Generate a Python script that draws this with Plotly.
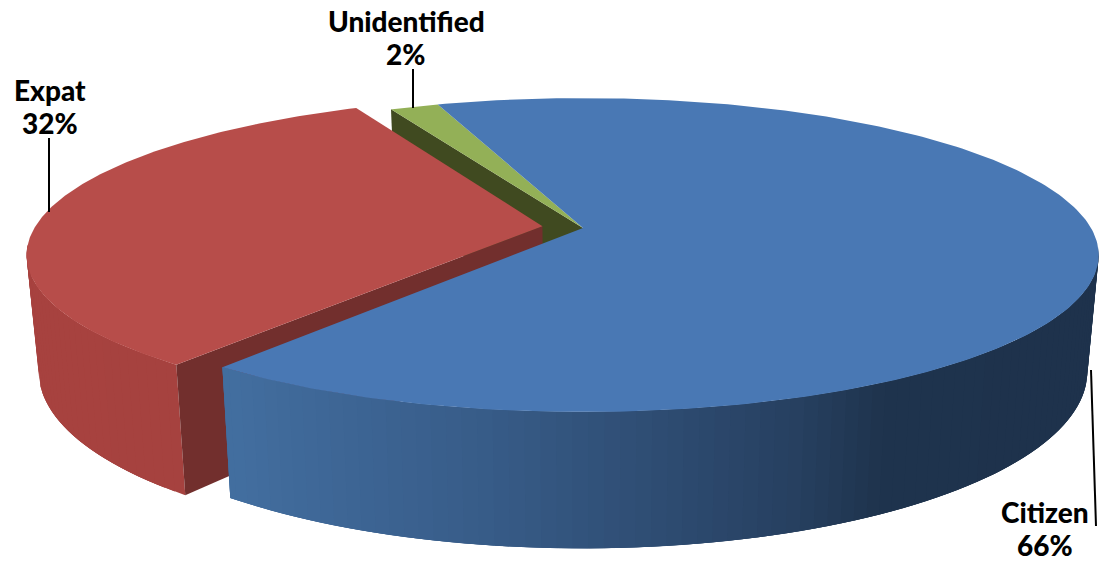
import numpy as np
import plotly.graph_objects as go

categories = ["Citizen", "Expat", "Unidentified"]
values = [65.9, 32.3, 1.8]
label_names = ["Citizen", "Expat", "Unidentified"]
label_pcts = ["66%", "32%", "2%"]

# picture geometry (styles, not data)
W, H = 1099, 562
X0, Y0 = 583, 228
A, B, K = 508, 152.3, 0.172
DEPTH, SHRINK = 113, 0.978
START = -19.4
# explosion of each slice, in the plane of the pie
OFFSETS = {"Citizen": (0, 0), "Expat": (-0.08, -0.012), "Unidentified": (0, 0)}
TOP = {"Citizen": "#4978b4", "Expat": "#b74d4a", "Unidentified": "#93b057"}
WALL = {"Expat": "#722f2d", "Unidentified": "#404a20"}
RIM_STOPS = {
    "Citizen": ([225, 500, 800, 880, 1099],
                [(0x43, 0x6f, 0xa0), (0x37, 0x5b, 0x87), (0x27, 0x40, 0x60), (0x1f, 0x34, 0x4e), (0x1e, 0x32, 0x4c)]),
    "Expat": ([25, 180], [(0xa8, 0x42, 0x3f), (0xa6, 0x43, 0x40)]),
}


def project(u, v, off, bottom=False):
    u, v = u + off[0], v + off[1]
    w = 1 - K * v
    if bottom:
        return X0 + SHRINK * A * u / w, Y0 + B * v / w + DEPTH / w
    return X0 + A * u / w, Y0 + B * v / w


def top_pt(a, off):
    r = np.radians(a)
    return project(np.sin(r), -np.cos(r), off)


def bot_pt(a, off):
    r = np.radians(a)
    return project(np.sin(r), -np.cos(r), off, bottom=True)


def poly(xs, ys, color):
    return go.Scatter(x=list(xs) + [xs[0]], y=list(ys) + [ys[0]], mode="lines", fill="toself",
                      fillcolor=color, line=dict(color=color, width=0),
                      hoverinfo="skip", showlegend=False)


def rim_color(name, x):
    xp, cols = RIM_STOPS[name]
    c = [np.interp(x, xp, [col[i] for col in cols]) for i in range(3)]
    return "rgb(%d,%d,%d)" % tuple(c)


# slice spans, clockwise from the start angle
spans = {}
cur = START
for name, val in zip(categories, values):
    spans[name] = (cur, cur + val / sum(values) * 360)
    cur = spans[name][1]

traces = []


def radial_wall(name, angle):
    off = OFFSETS[name]
    p, q = top_pt(angle, off), bot_pt(angle, off)
    a0, a1 = project(0, 0, off), project(0, 0, off, bottom=True)
    return poly([a0[0], p[0], q[0], a1[0]], [a0[1], p[1], q[1], a1[1]], WALL[name])


def top_face(name):
    off = OFFSETS[name]
    s, e = spans[name]
    ang = np.linspace(s, e, 240)
    pts = [top_pt(a, off) for a in ang]
    a0 = project(0, 0, off)
    return poly([a0[0]] + [p[0] for p in pts], [a0[1]] + [p[1] for p in pts], TOP[name])


def rim(name, lo, hi):
    """Overlapping strips, painted so that no seam shows between them."""
    off = OFFSETS[name]
    out = []
    step = 1.5
    for a in np.arange(lo, hi, step):
        b = min(a + step, hi)
        arc = np.linspace(a, min(a + 3 * step, hi), 5)
        t = [top_pt(x, off) for x in arc]
        q = [bot_pt(x, off) for x in arc[::-1]]
        col = rim_color(name, (top_pt(a, off)[0] + top_pt(b, off)[0]) / 2)
        out.append(poly([p[0] for p in t + q], [p[1] for p in t + q], col))
    return out


# back to front
traces.append(radial_wall("Unidentified", spans["Unidentified"][0]))
traces.append(top_face("Unidentified"))
traces += rim("Expat", spans["Expat"][0], 263)
traces.append(radial_wall("Expat", spans["Expat"][0]))
traces.append(top_face("Expat"))
traces += rim("Citizen", 97, spans["Citizen"][1])
traces.append(top_face("Citizen"))

fig = go.Figure(traces)

leaders = [((1091, 370), (1096, 526)), ((49, 138), (49, 212)), ((413, 69), (413, 108))]
shapes = [dict(type="line", xref="x", yref="y", x0=a[0], y0=a[1], x1=b[0], y1=b[1],
               line=dict(color="#000000", width=2)) for a, b in leaders]
name_pos = [(1045, 512), (50, 90), (406, 21)]
pct_pos = [(1045, 545), (50, 123), (405, 54)]
annotations = []
for texts, positions in ((label_names, name_pos), (label_pcts, pct_pos)):
    for t, p in zip(texts, positions):
        annotations.append(dict(x=p[0], y=p[1], xref="x", yref="y", text=t, showarrow=False,
                                xanchor="center", yanchor="middle", align="center",
                                font=dict(family="Lato", size=28, color="#000000", weight=900)))

fig.update_layout(
    width=W, height=H, autosize=False, margin=dict(l=0, r=0, t=0, b=0),
    paper_bgcolor="#ffffff", plot_bgcolor="#ffffff", showlegend=False,
    xaxis=dict(range=[0, W], visible=False, fixedrange=True),
    yaxis=dict(range=[H, 0], visible=False, fixedrange=True),
    shapes=shapes, annotations=annotations,
)
fig.write_html("out.html", config={"displayModeBar": False},
               post_script="document.body.style.margin='0';document.body.style.overflow='hidden';")
